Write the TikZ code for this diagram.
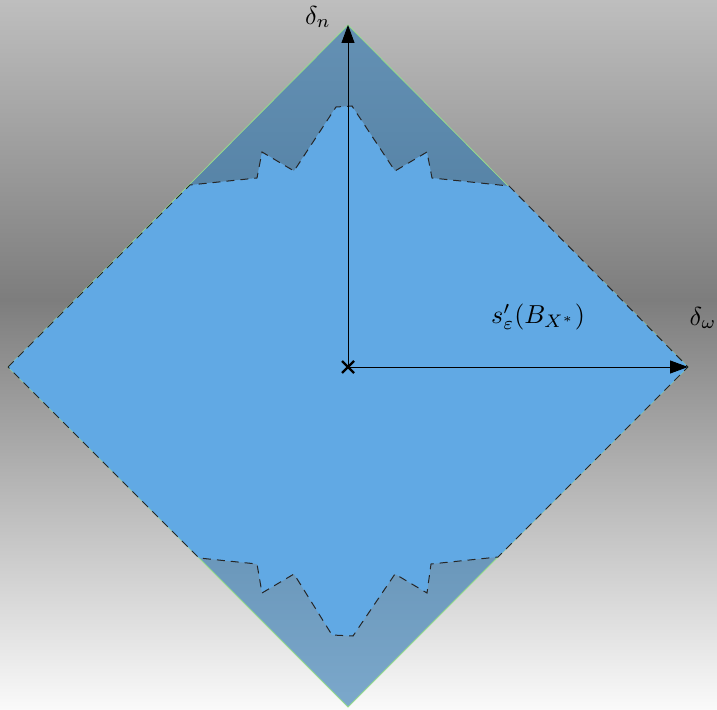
\documentclass[tikz,border=0pt]{standalone}
\usetikzlibrary{arrows.meta,calc}
\definecolor{outerblue}{RGB}{53,123,178}
\definecolor{innerblue}{RGB}{97,169,228}
\definecolor{edgegreen}{RGB}{150,220,140}
\definecolor{bgtop}{RGB}{190,190,190}
\definecolor{bgmid}{RGB}{125,125,125}
\definecolor{bgbot}{RGB}{250,250,250}
\pgfdeclareverticalshading{bgshade}{100bp}{color(0bp)=(bgbot); color(25bp)=(bgbot); color(53.9bp)=(bgmid); color(75bp)=(bgtop); color(100bp)=(bgtop)}
\tikzset{
  axisline/.style={line width=0.45pt, -{Triangle[length=9pt,width=6.5pt]}},
  innerline/.style={black!85, line width=0.5pt, dash pattern=on 4pt off 3pt},
  outerfill/.style={fill=outerblue, fill opacity=0.64},
  outerline/.style={edgegreen, line width=0.4pt},
  lab/.style={inner sep=0pt, scale=1.3, transform shape}
}
\begin{document}
\begin{tikzpicture}[x=0.5pt,y=-0.5pt]
\shade[shading=bgshade] (0,0) rectangle (717,710);
\useasboundingbox (0,0) rectangle (717,710);
\coordinate (O) at (348,367);
\coordinate (N) at (348,25);
\coordinate (E) at (688,367);
\coordinate (S) at (348,707);
\coordinate (W) at (8,367);
\fill[outerfill] (N) -- (E) -- (S) -- (W) -- cycle;
\draw[outerline] (N) -- (E) -- (S) -- (W) -- cycle;
\fill[innerblue] (W) -- (190,185) -- (257,178) -- (262,152) -- (294,171) -- (336,107) -- (352,106) -- (395,171) -- (427,152) -- (432,178) -- (509,186) -- (E) -- (498,557) -- (431,564) -- (427,593) -- (395,574) -- (353,636) -- (332,635) -- (294,574) -- (262,593) -- (257,564) -- (199,558) -- cycle;
\draw[innerline] (W) -- (190,185) -- (257,178) -- (262,152) -- (294,171) -- (336,107) -- (352,106) -- (395,171) -- (427,152) -- (432,178) -- (509,186) -- (E) -- (498,557) -- (431,564) -- (427,593) -- (395,574) -- (353,636) -- (332,635) -- (294,574) -- (262,593) -- (257,564) -- (199,558) -- cycle;
\draw[axisline] (O) -- (N);
\draw[axisline] (O) -- (E);
\draw[line width=1.2pt] ($(O)+(-6,-6)$) -- ($(O)+(6,6)$);
\draw[line width=1.2pt] ($(O)+(-6,6)$) -- ($(O)+(6,-6)$);
\node[lab] (dn) at (318,17) {$\delta_n$};
\node[lab] (dw) at (703,318) {$\delta_\omega$};
\node[lab] (sl) at (538,317) {$s'_\varepsilon(B_{X^*})$};
\end{tikzpicture}
\end{document}
